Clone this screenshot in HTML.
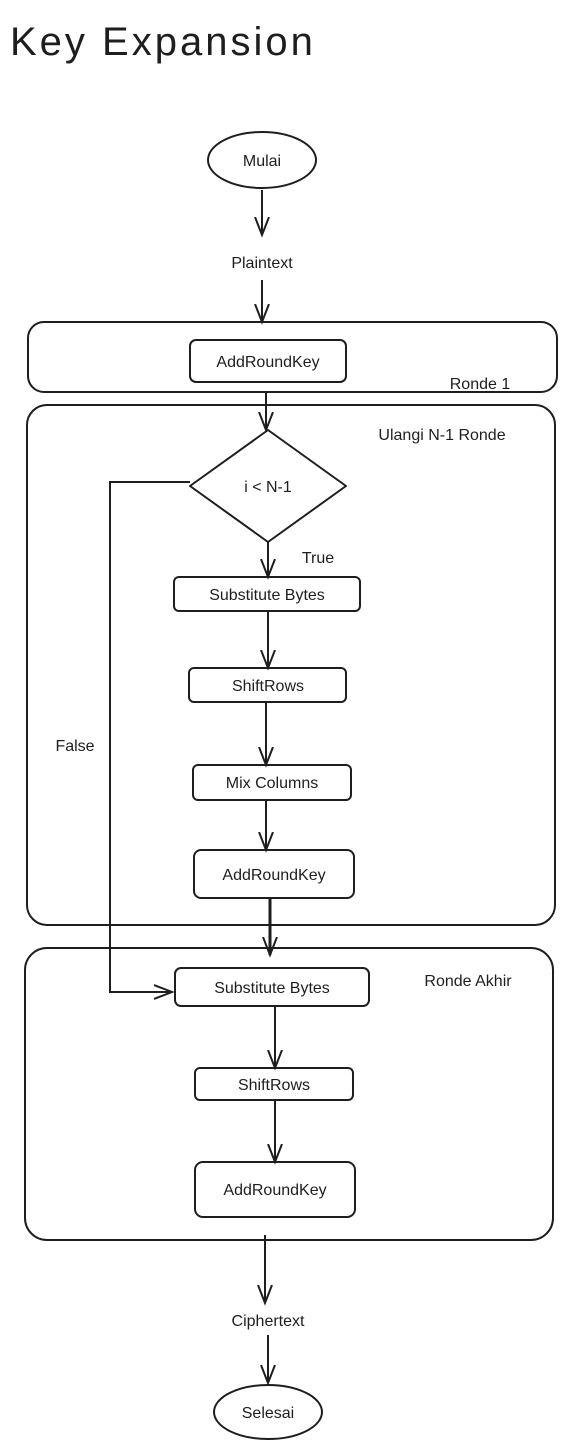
<!DOCTYPE html>
<html><head><meta charset="utf-8"><style>
html,body{margin:0;padding:0;background:#fff;}
svg{display:block;}
text{font-family:"Liberation Sans",sans-serif;fill:#1e1e1e;}
</style></head><body>
<svg width="567" height="1447" viewBox="0 0 567 1447" xmlns="http://www.w3.org/2000/svg">
<defs>
<marker id="a" markerWidth="24" markerHeight="24" refX="18" refY="12" orient="auto" markerUnits="userSpaceOnUse">
<path d="M0,5 L18,12 L0,19" fill="none" stroke="#1e1e1e" stroke-width="2"/>
</marker>
</defs>
<text x="10" y="55" font-size="40" letter-spacing="3">Key Expansion</text>
<g fill="none" stroke="#1e1e1e" stroke-width="2">
<ellipse cx="262" cy="160" rx="54" ry="28"/>
<line x1="262" y1="190" x2="262" y2="235" marker-end="url(#a)"/>
<line x1="262" y1="280" x2="262" y2="322" marker-end="url(#a)"/>
<rect x="28" y="322" width="529" height="70" rx="16"/>
<rect x="190" y="340" width="156" height="42" rx="6"/>
<line x1="266" y1="392" x2="266" y2="430" marker-end="url(#a)"/>
<rect x="27" y="405" width="528" height="520" rx="20"/>
<path d="M268,430 L346,486 L268,542 L190,486 Z" stroke-linejoin="round"/>
<path d="M190,482 L110,482 L110,992 L172,992" marker-end="url(#a)"/>
<line x1="268" y1="542" x2="268" y2="577" marker-end="url(#a)"/>
<rect x="174" y="577" width="186" height="34" rx="5"/>
<line x1="268" y1="611" x2="268" y2="668" marker-end="url(#a)"/>
<rect x="189" y="668" width="157" height="34" rx="5"/>
<line x1="266" y1="702" x2="266" y2="765" marker-end="url(#a)"/>
<rect x="193" y="765" width="158" height="35" rx="5"/>
<line x1="266" y1="800" x2="266" y2="850" marker-end="url(#a)"/>
<rect x="194" y="850" width="160" height="48" rx="7"/>
<line x1="270" y1="898" x2="270" y2="955" stroke-width="3" marker-end="url(#a)"/>
<rect x="25" y="948" width="528" height="292" rx="22"/>
<rect x="175" y="968" width="194" height="38" rx="6"/>
<line x1="275" y1="1006" x2="275" y2="1068" marker-end="url(#a)"/>
<rect x="195" y="1068" width="158" height="32" rx="5"/>
<line x1="275" y1="1100" x2="275" y2="1162" marker-end="url(#a)"/>
<rect x="195" y="1162" width="160" height="55" rx="8"/>
<line x1="265" y1="1235" x2="265" y2="1303" marker-end="url(#a)"/>
<line x1="268" y1="1335" x2="268" y2="1383" marker-end="url(#a)"/>
<ellipse cx="268" cy="1412" rx="54" ry="27"/>
</g>
<g font-size="16" text-anchor="middle">
<text x="262" y="166">Mulai</text>
<text x="262" y="268">Plaintext</text>
<text x="268" y="367">AddRoundKey</text>
<text x="480" y="389">Ronde 1</text>
<text x="442" y="440">Ulangi N-1 Ronde</text>
<text x="268" y="492">i &lt; N-1</text>
<text x="318" y="563">True</text>
<text x="75" y="751">False</text>
<text x="267" y="600">Substitute Bytes</text>
<text x="268" y="691">ShiftRows</text>
<text x="272" y="788">Mix Columns</text>
<text x="274" y="880">AddRoundKey</text>
<text x="468" y="986">Ronde Akhir</text>
<text x="272" y="993">Substitute Bytes</text>
<text x="274" y="1090">ShiftRows</text>
<text x="275" y="1195">AddRoundKey</text>
<text x="268" y="1326">Ciphertext</text>
<text x="268" y="1418">Selesai</text>
</g>
</svg>
</body></html>
